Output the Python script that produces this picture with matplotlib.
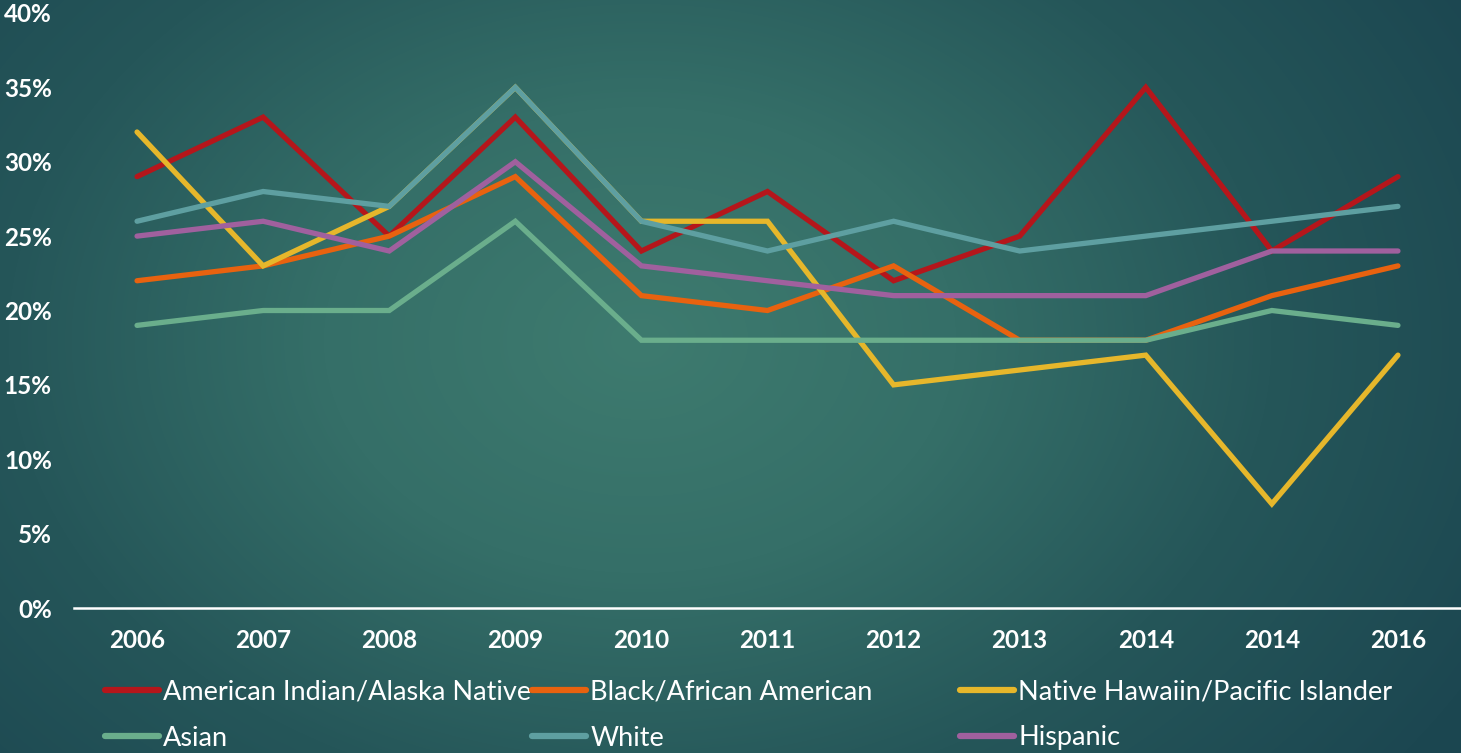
import numpy as np
import matplotlib
matplotlib.use("Agg")
import matplotlib.pyplot as plt
from matplotlib.lines import Line2D
from matplotlib.colors import LinearSegmentedColormap

years = ["2006", "2007", "2008", "2009", "2010", "2011", "2012", "2013", "2014", "2014", "2016"]
american_indian = [29, 33, 25, 33, 24, 28, 22, 25, 35, 24, 29]
black = [22, 23, 25, 29, 21, 20, 23, 18, 18, 21, 23]
native_hawaiian = [32, 23, 27, 35, 26, 26, 15, 16, 17, 7, 17]
asian = [19, 20, 20, 26, 18, 18, 18, 18, 18, 20, 19]
white = [26, 28, 27, 35, 26, 24, 26, 24, 25, 26, 27]
hispanic = [25, 26, 24, 30, 23, 22, 21, 21, 21, 24, 24]
yticks = [0, 5, 10, 15, 20, 25, 30, 35, 40]

series = [
    ("American Indian/Alaska Native", american_indian, "#b5161b"),
    ("Black/African American", black, "#e8620f"),
    ("Native Hawaiin/Pacific Islander", native_hawaiian, "#e6b72b"),
    ("Asian", asian, "#6aae8c"),
    ("White", white, "#5e9fa1"),
    ("Hispanic", hispanic, "#a0609e"),
]

W, H = 1461, 753
fig = plt.figure(figsize=(W / 100, H / 100), dpi=100)

# background radial gradient
bg = fig.add_axes([0, 0, 1, 1])
yy, xx = np.mgrid[0:H, 0:W]
cx, cy = 640, 340
r = np.sqrt(((xx - cx) / 950.0) ** 2 + ((yy - cy) / 700.0) ** 2)
r = np.clip(r, 0, 1)
cmap = LinearSegmentedColormap.from_list("bg", ["#3e7b6f", "#356f68", "#255659", "#1c4751"])
bg.imshow(r, cmap=cmap, aspect="auto", extent=[0, 1, 0, 1], origin="upper", vmin=0, vmax=1)
bg.set_axis_off()

left = 74 / W
bottom = (H - 608) / H
top = (H - 13) / H
ax = fig.add_axes([left, bottom, 1 - left, top - bottom])
ax.patch.set_alpha(0)

x = np.arange(len(years))
for name, vals, col in series:
    ax.plot(x, vals, color=col, lw=3.8, solid_capstyle="round", solid_joinstyle="miter")

ax.set_xlim(-0.5, len(years) - 0.5)
ax.set_ylim(0, 40)
ax.set_yticks(yticks)
ax.set_yticklabels([f"{v}%" for v in yticks])
ax.set_xticks(x)
ax.set_xticklabels(years)
for s in ["top", "right", "left"]:
    ax.spines[s].set_visible(False)
ax.spines["bottom"].set_color("white")
ax.spines["bottom"].set_linewidth(1.8)
ax.tick_params(axis="both", length=0, colors="white")
ax.tick_params(axis="y", pad=16)
ax.tick_params(axis="x", pad=15)
for lab in ax.get_yticklabels() + ax.get_xticklabels():
    lab.set_fontfamily("Lato")
    lab.set_fontweight("bold")
    lab.set_fontsize(17.5)
    lab.set_color("white")

# legend entries in fixed grid
positions = [(105, 692), (532, 692), (960, 692), (105, 738), (532, 738), (960, 738)]
for (name, vals, col), (px, py) in zip(series, positions):
    h = Line2D([], [], color=col, lw=4.5, solid_capstyle="round")
    lg = fig.legend([h], [name], loc="center left",
                    bbox_to_anchor=(px / W, 1 - py / H), frameon=False,
                    handlelength=2.0, handletextpad=0.15, borderpad=0, borderaxespad=0,
                    prop={"family": "Lato", "weight": "normal", "size": 19.5})
    for t in lg.get_texts():
        t.set_color("white")

fig.savefig("out.png", dpi=100)
